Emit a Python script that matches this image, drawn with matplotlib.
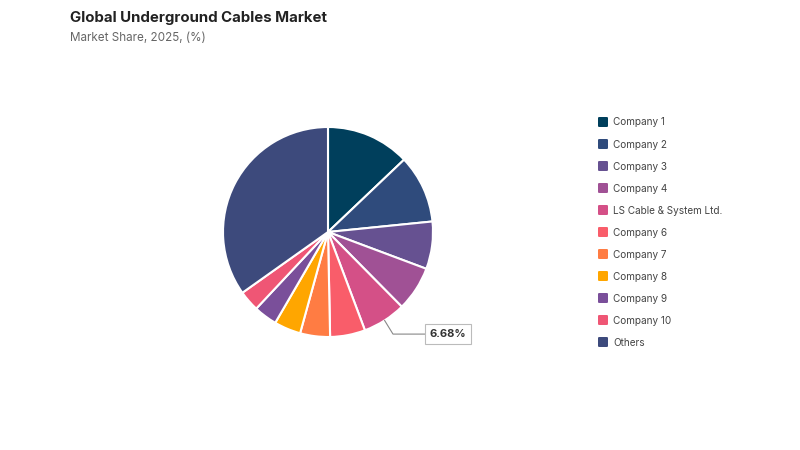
import numpy as np
import matplotlib.pyplot as plt
from matplotlib.patches import FancyBboxPatch

companies = ["Company 1", "Company 2", "Company 3", "Company 4", "LS Cable & System Ltd.",
             "Company 6", "Company 7", "Company 8", "Company 9", "Company 10", "Others"]
shares = [12.9, 10.5, 7.3, 6.9, 6.68, 5.4, 4.6, 4.1, 3.6, 3.2, 34.82]
colors = ["#003f5c", "#2f4b7c", "#665191", "#a05195", "#d45087", "#f95d6a",
          "#ff7c43", "#ffa600", "#7a4f9a", "#ef5675", "#3d4a7c"]
labelled = "LS Cable & System Ltd."

plt.rcParams['font.family'] = ['Inter', 'DejaVu Sans']

fig = plt.figure(figsize=(8, 4.5), dpi=100)
fig.patch.set_facecolor("white")

fig.text(70/800, 1 - 18/450, "Global Underground Cables Market", fontsize=10.8,
         fontweight="bold", color="#222222", va="center", ha="left")
fig.text(70/800, 1 - 38/450, "Market Share, 2025, (%)", fontsize=8.4,
         color="#666666", va="center", ha="left")

# pie: centre (328, 232) px, radius 105 px
ax = fig.add_axes([(328 - 105)/800, (450 - 232 - 105)/450, 210/800, 210/450])
wedges, _ = ax.pie(shares, colors=colors, startangle=90, counterclock=False,
                   radius=1.0, wedgeprops=dict(edgecolor="white", linewidth=1.5))
ax.set_xlim(-1, 1)
ax.set_ylim(-1, 1)
ax.set_aspect("equal")
ax.axis("off")

# label for LS Cable
i = companies.index(labelled)
w = wedges[i]
mid = np.deg2rad((w.theta1 + w.theta2) / 2)
px, py = np.cos(mid), np.sin(mid)
elbow = (px + 0.08, py - 0.13)
ax.plot([px, elbow[0], elbow[0] + 0.30], [py, elbow[1], elbow[1]],
        color="#888888", lw=0.8, clip_on=False)
ax.text(elbow[0] + 0.35, elbow[1], f"{shares[i]:.2f}%", fontsize=8.0,
        fontweight="bold", color="#333333", va="center", ha="left",
        bbox=dict(boxstyle="square,pad=0.42", fc="white", ec="#bbbbbb", lw=0.8))

# legend
for k, (name, col) in enumerate(zip(companies, colors)):
    y = 122 + 22 * k
    fig.patches.append(FancyBboxPatch((598/800, 1 - (y + 5)/450), 10/800, 10/450,
                                      boxstyle="round,pad=0,rounding_size=0.002",
                                      transform=fig.transFigure, fc=col, ec="none"))
    fig.text(613/800, 1 - (y + 0.5)/450, name, fontsize=7.2, color="#444444",
             va="center", ha="left")

fig.savefig("out.png", dpi=100)
